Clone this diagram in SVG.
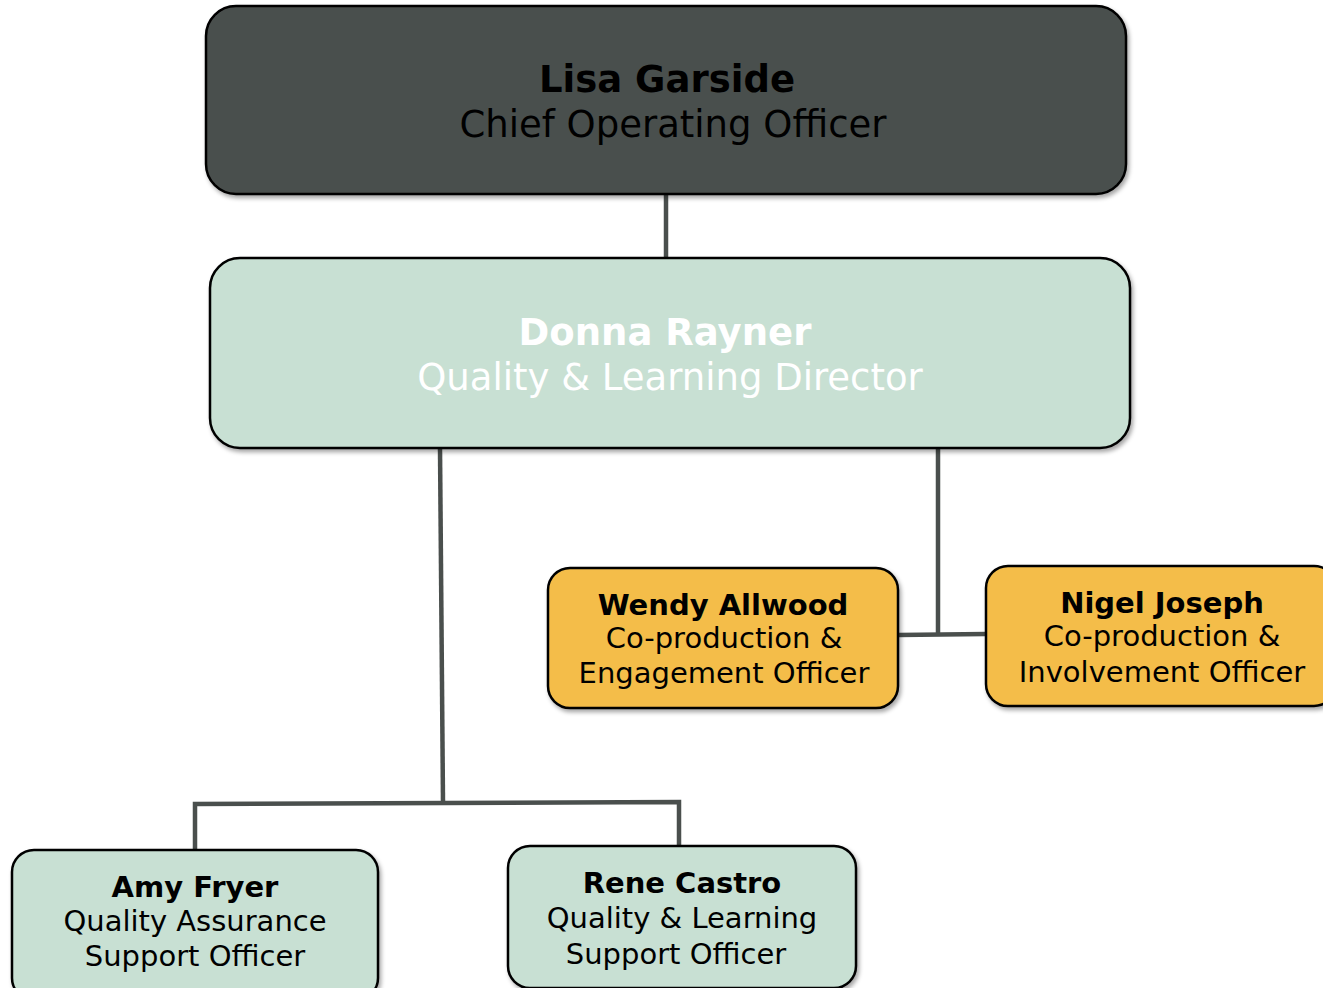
<svg xmlns="http://www.w3.org/2000/svg" width="1323" height="988" viewBox="0 0 1323 988">
<defs>
<filter id="sh" x="-5%" y="-5%" width="110%" height="115%">
<feDropShadow dx="2" dy="3" stdDeviation="2" flood-color="#000" flood-opacity="0.35"/>
</filter>
<style>
.box{stroke:#000;stroke-width:2.5;filter:url(#sh)}
.dark{fill:#4a4f4d}
.green{fill:#c8e0d3}
.amber{fill:#f4bd4a}
.t{font-family:"DejaVu Sans","Liberation Sans",sans-serif;text-anchor:middle}
.b{font-weight:bold}
.big{font-size:37px}
.sm{font-size:29px}
.k{fill:#000}
.w{fill:#fff}
.conn{stroke:#4a4f4d;stroke-width:4.5;fill:none}
</style>
</defs>
<rect width="1323" height="988" fill="#fff"/>
<g id="connectors">
<line class="conn" x1="666" y1="194" x2="666" y2="258"/>
<line class="conn" x1="440" y1="448" x2="443" y2="803"/>
<polyline class="conn" points="195,850 195,804 679,802 679,846"/>
<line class="conn" x1="938" y1="448" x2="938" y2="635"/>
<line class="conn" x1="898" y1="635" x2="986" y2="634"/>
</g>
<g id="lisa">
<rect class="box dark" x="206" y="6" width="920" height="188" rx="30"/>
<text class="t b big k" x="667" y="92">Lisa Garside</text>
<text class="t big k" x="673" y="137">Chief Operating Officer</text>
</g>
<g id="donna">
<rect class="box green" x="210" y="258" width="920" height="190" rx="30"/>
<text class="t b big w" x="665" y="345">Donna Rayner</text>
<text class="t big w" x="670" y="390">Quality &amp; Learning Director</text>
</g>
<g id="wendy">
<rect class="box amber" x="548" y="568" width="350" height="140" rx="22"/>
<text class="t b sm k" x="723" y="615">Wendy Allwood</text>
<text class="t sm k" x="724" y="648">Co-production &amp;</text>
<text class="t sm k" x="724" y="683">Engagement Officer</text>
</g>
<g id="nigel">
<rect class="box amber" x="986" y="566" width="350" height="140" rx="22"/>
<text class="t b sm k" x="1162" y="613">Nigel Joseph</text>
<text class="t sm k" x="1162" y="646">Co-production &amp;</text>
<text class="t sm k" x="1162" y="682">Involvement Officer</text>
</g>
<g id="amy">
<rect class="box green" x="12" y="850" width="366" height="150" rx="22"/>
<text class="t b sm k" x="195" y="897">Amy Fryer</text>
<text class="t sm k" x="195" y="931">Quality Assurance</text>
<text class="t sm k" x="195" y="966">Support Officer</text>
</g>
<g id="rene">
<rect class="box green" x="508" y="846" width="348" height="142" rx="22"/>
<text class="t b sm k" x="682" y="893">Rene Castro</text>
<text class="t sm k" x="682" y="928">Quality &amp; Learning</text>
<text class="t sm k" x="676" y="964">Support Officer</text>
</g>
</svg>
